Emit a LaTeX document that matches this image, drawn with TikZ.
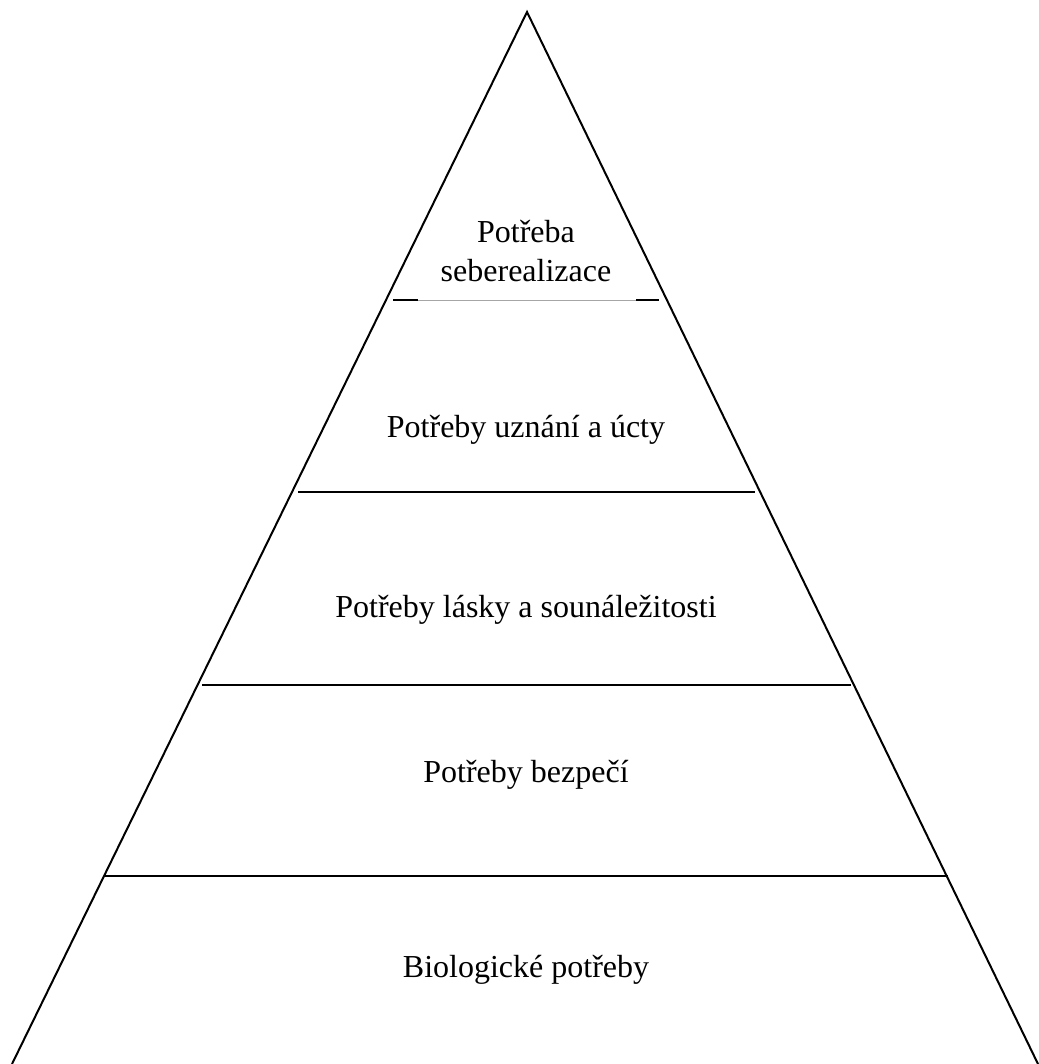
\documentclass[tikz,border=0pt]{standalone}
\usepackage{fontspec}
\setmainfont{Liberation Serif}
\tikzset{
  edge/.style={line width=2pt, black},
  thinedge/.style={line width=0.9pt, gray!70},
  lbl/.style={font=\fontsize{32}{37}\selectfont, inner sep=0pt, anchor=base}
}
\begin{document}
\begin{tikzpicture}[x=1pt,y=-1pt]
\useasboundingbox (0,0) rectangle (1038,1064);
\fill[white] (0,0) rectangle (1038,1064);
\coordinate (apex) at (527,12);
\coordinate (bl) at (12,1064);
\coordinate (br) at (1038,1064);
\draw[edge, line join=miter] (bl) -- (apex) -- (br);
% level separators
\coordinate (l1a) at (298,492); \coordinate (l1b) at (755,492);
\coordinate (l2a) at (202,685); \coordinate (l2b) at (851,685);
\coordinate (l3a) at (105,876); \coordinate (l3b) at (948,876);
\draw[edge] (l1a) -- (l1b);
\draw[edge] (l2a) -- (l2b);
\draw[edge] (l3a) -- (l3b);
% top separator
\coordinate (t0a) at (393,300); \coordinate (t0b) at (418,300);
\coordinate (t0c) at (636,300); \coordinate (t0d) at (659,300);
\draw[edge] (t0a) -- (t0b);
\draw[thinedge] (t0b) -- (t0c);
\draw[edge] (t0c) -- (t0d);
% labels
\node[lbl] (n5a) at (526,243) {Potřeba};
\node[lbl] (n5b) at (526,281) {seberealizace};
\node[lbl] (n4) at (526,437) {Potřeby uznání a úcty};
\node[lbl] (n3) at (526,617) {Potřeby lásky a sounáležitosti};
\node[lbl] (n2) at (526,782) {Potřeby bezpečí};
\node[lbl] (n1) at (526,977) {Biologické potřeby};
\end{tikzpicture}
\end{document}
